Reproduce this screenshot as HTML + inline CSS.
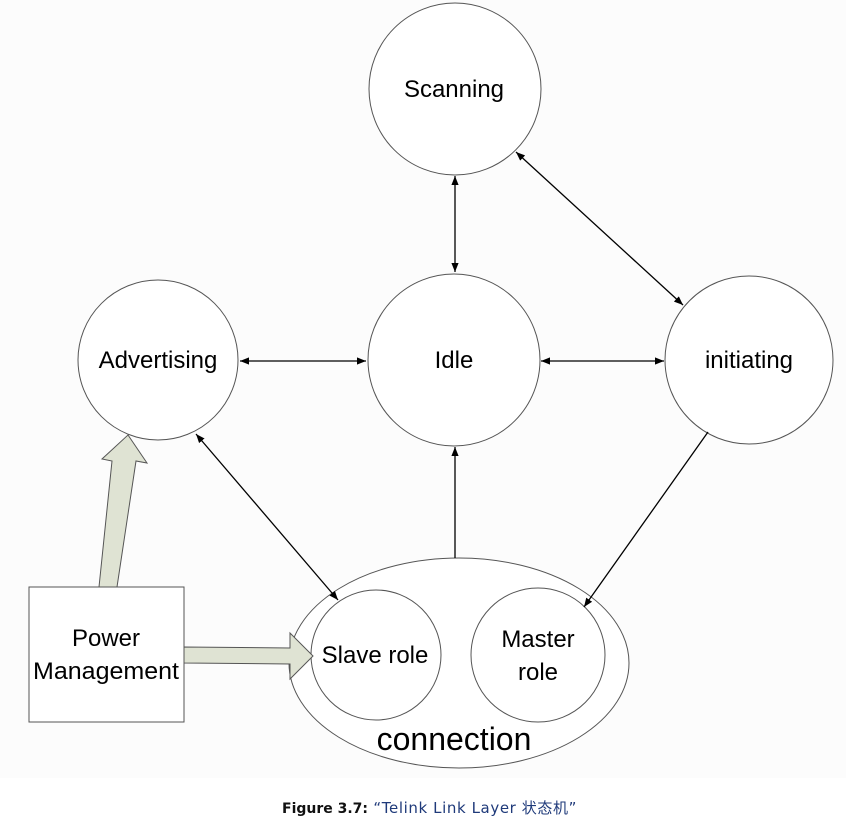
<!DOCTYPE html>
<html><head><meta charset="utf-8"><style>
body{margin:0;background:#fff;}
svg{display:block;}
</style></head><body>
<svg width="852" height="822" viewBox="0 0 852 822" xmlns="http://www.w3.org/2000/svg">
<defs>
<marker id="a" viewBox="0 0 10 10" refX="10" refY="5" markerWidth="9" markerHeight="9" orient="auto-start-reverse" markerUnits="userSpaceOnUse">
<path d="M0,1 L10,5 L0,9 z" fill="#000"/></marker>
</defs>
<rect x="0" y="0" width="846" height="778" fill="#fcfcfc"/>
<g fill="#fff" stroke="#555" stroke-width="1">
<circle cx="455" cy="89" r="86"/>
<circle cx="454" cy="360" r="86"/>
<circle cx="158" cy="360" r="80"/>
<circle cx="749" cy="360" r="84"/>
<ellipse cx="459" cy="663" rx="170" ry="105"/>
<circle cx="376" cy="655" r="65"/>
<circle cx="538" cy="655" r="67"/>
<rect x="29" y="587" width="155" height="135"/>
</g>
<g stroke="#000" stroke-width="1.3" fill="none">
<line x1="455" y1="176" x2="455" y2="272" marker-start="url(#a)" marker-end="url(#a)"/>
<line x1="516" y1="152" x2="683" y2="305" marker-start="url(#a)" marker-end="url(#a)"/>
<line x1="240" y1="361" x2="366" y2="361" marker-start="url(#a)" marker-end="url(#a)"/>
<line x1="541" y1="361" x2="664" y2="361" marker-start="url(#a)" marker-end="url(#a)"/>
<line x1="196" y1="434" x2="338" y2="600" marker-start="url(#a)" marker-end="url(#a)"/>
<line x1="455" y1="558" x2="455" y2="447" marker-end="url(#a)"/>
<line x1="708" y1="432" x2="584" y2="607" marker-end="url(#a)"/>
</g>
<g fill="#dfe3d3" stroke="#555" stroke-width="1">
<path d="M99,587 L112,461 L102,459 L128,435 L147,463 L136,461 L117,587 z"/>
<path d="M184,647 L290,648 L290,633 L313,656 L290,679 L290,664 L184,663 z"/>
</g>
<g font-family="'Liberation Sans',sans-serif" font-size="24" fill="#000" text-anchor="middle">
<text x="454" y="97">Scanning</text>
<text x="454" y="368">Idle</text>
<text x="158" y="368">Advertising</text>
<text x="749" y="368">initiating</text>
<text x="375" y="663">Slave role</text>
<text x="538" y="647">Master</text>
<text x="538" y="680">role</text>
<text x="106" y="646">Power</text>
<text x="106" y="679" textLength="146" lengthAdjust="spacingAndGlyphs">Management</text>
<text x="454" y="750" font-size="32">connection</text>
</g>
<text x="282" y="813" font-family="'DejaVu Sans','Noto Sans CJK SC',sans-serif" font-size="14"><tspan font-weight="bold" fill="#111">Figure 3.7:</tspan><tspan fill="#1f3a7a" font-size="15" letter-spacing="0.6"> “Telink Link Layer 状态机”</tspan></text>
</svg>
</body></html>
